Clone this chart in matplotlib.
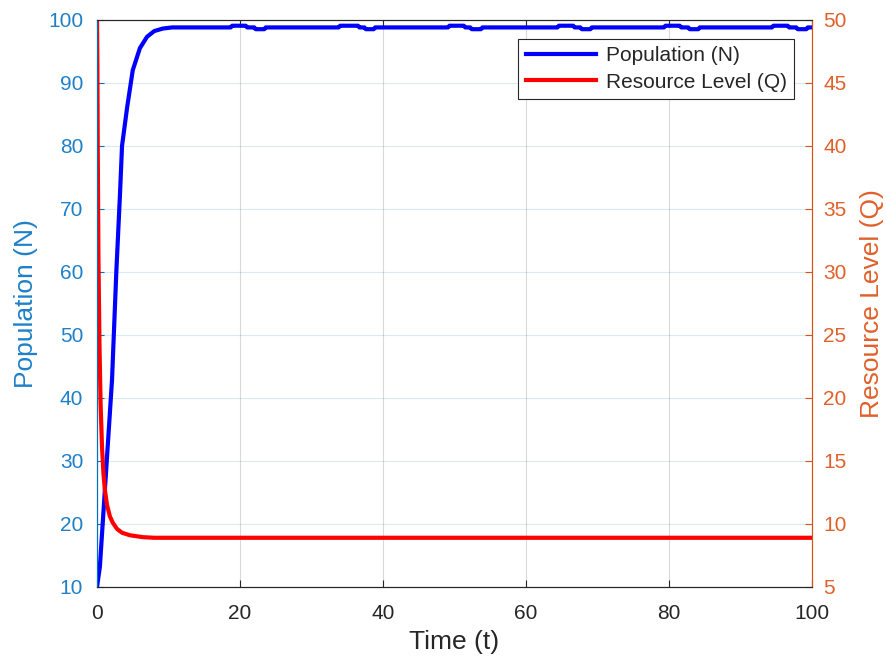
import numpy as np
import matplotlib.pyplot as plt

plt.rcParams["font.family"] = ["Liberation Sans", "DejaVu Sans"]

# population N(t): fast rise, then a plateau with small ripples
t_pop = [0, 0.4, 1.1, 2.1, 2.7, 3.2, 3.5, 4.2, 5.0, 6.0, 7.0, 8.0, 9.2, 10.5,
         18.7, 18.9, 20.8, 21.0, 22.0, 22.2, 23.4, 23.6,
         33.8, 34.0, 36.5, 36.7, 37.4, 37.6, 38.7, 38.9,
         49.1, 49.3, 51.3, 51.5, 52.2, 52.4, 53.7, 53.9,
         64.4, 64.6, 66.6, 66.8, 67.6, 67.8, 69.0, 69.2,
         79.3, 79.5, 81.5, 81.7, 82.7, 82.9, 84.1, 84.3,
         94.4, 94.6, 96.6, 96.8, 97.8, 98.0, 99.2, 99.4, 100]
pop = [10, 13.2, 25.4, 42.9, 60, 72, 80, 86, 92, 95.5, 97.3, 98.2, 98.6, 98.78,
       98.78, 99.05, 99.05, 98.78, 98.78, 98.5, 98.5, 98.78,
       98.78, 99.05, 99.05, 98.78, 98.78, 98.5, 98.5, 98.78,
       98.78, 99.05, 99.05, 98.78, 98.78, 98.5, 98.5, 98.78,
       98.78, 99.05, 99.05, 98.78, 98.78, 98.5, 98.5, 98.78,
       98.78, 99.05, 99.05, 98.78, 98.78, 98.5, 98.5, 98.78,
       98.78, 99.05, 99.05, 98.78, 98.78, 98.5, 98.5, 98.78, 98.78]

# resource level Q(t)
t_res = [0, 0.05, 0.1, 0.2, 0.35, 0.5, 0.7, 0.9, 1.1, 1.4, 1.8, 2.2, 2.8, 3.5,
         4.6, 6.4, 8.0, 100]
res = [50, 46.5, 40, 31, 24, 19.5, 16.1, 14.0, 12.7, 11.5, 10.6, 10.1, 9.6, 9.3,
       9.1, 8.95, 8.9, 8.9]

x_ticks = [0, 20, 40, 60, 80, 100]
n_ticks = list(range(10, 101, 10))
q_ticks = list(range(5, 51, 5))

c_left = "#0072BD"
c_left_txt = "#1f80c8"
c_right = "#D95319"
c_right_txt = "#e0602a"
c_dark = "#262626"

fig = plt.figure(figsize=(8.86, 6.58), dpi=100)
ax1 = fig.add_axes([0.1095, 0.108, 0.807, 0.862])
ax2 = ax1.twinx()

l1, = ax1.plot(t_pop, pop, color="blue", lw=3.0, label="Population (N)")
l2, = ax2.plot(t_res, res, color="red", lw=3.0, label="Resource Level (Q)")

ax1.set_xlim(0, 100)
ax1.set_ylim(10, 100)
ax2.set_ylim(5, 50)
ax1.set_xticks(x_ticks)
ax1.set_yticks(n_ticks)
ax2.set_yticks(q_ticks)

# grid: grey verticals, light blue horizontals
ax1.grid(axis="x", color="#000000", alpha=0.15, lw=0.8)
ax1.grid(axis="y", color=c_left, alpha=0.15, lw=0.8)
ax1.set_axisbelow(True)

ax1.tick_params(axis="x", direction="in", length=5, top=True, color=c_dark,
                labelcolor=c_dark, labelsize=15, pad=12)
ax1.tick_params(axis="y", direction="in", length=5, color=c_left,
                labelcolor=c_left_txt, labelsize=15, pad=10)
ax2.tick_params(axis="y", direction="in", length=5, color=c_right,
                labelcolor=c_right_txt, labelsize=15, pad=8)

for ax in (ax1, ax2):
    ax.spines["top"].set_color(c_dark)
    ax.spines["bottom"].set_color(c_dark)
    ax.spines["left"].set_color(c_left)
    ax.spines["right"].set_color(c_right)
    for s in ax.spines.values():
        s.set_linewidth(0.8)

ax1.set_xlabel("Time (t)", fontsize=19, color=c_dark, labelpad=5)
ax1.set_ylabel("Population (N)", fontsize=19, color=c_left_txt, labelpad=7)
ax2.set_ylabel("Resource Level (Q)", fontsize=19, color=c_right_txt, labelpad=10)

leg = ax2.legend(handles=[l1, l2], loc="upper right",
                 bbox_to_anchor=(0.975, 0.966), fontsize=15, handlelength=3.4,
                 fancybox=False, framealpha=1, borderpad=0.35,
                 labelspacing=0.35, handletextpad=0.45, borderaxespad=0)
leg.get_frame().set_edgecolor(c_dark)
leg.get_frame().set_linewidth(0.8)
for txt in leg.get_texts():
    txt.set_color(c_dark)

fig.savefig("out.png", dpi=100)
plt.close(fig)
